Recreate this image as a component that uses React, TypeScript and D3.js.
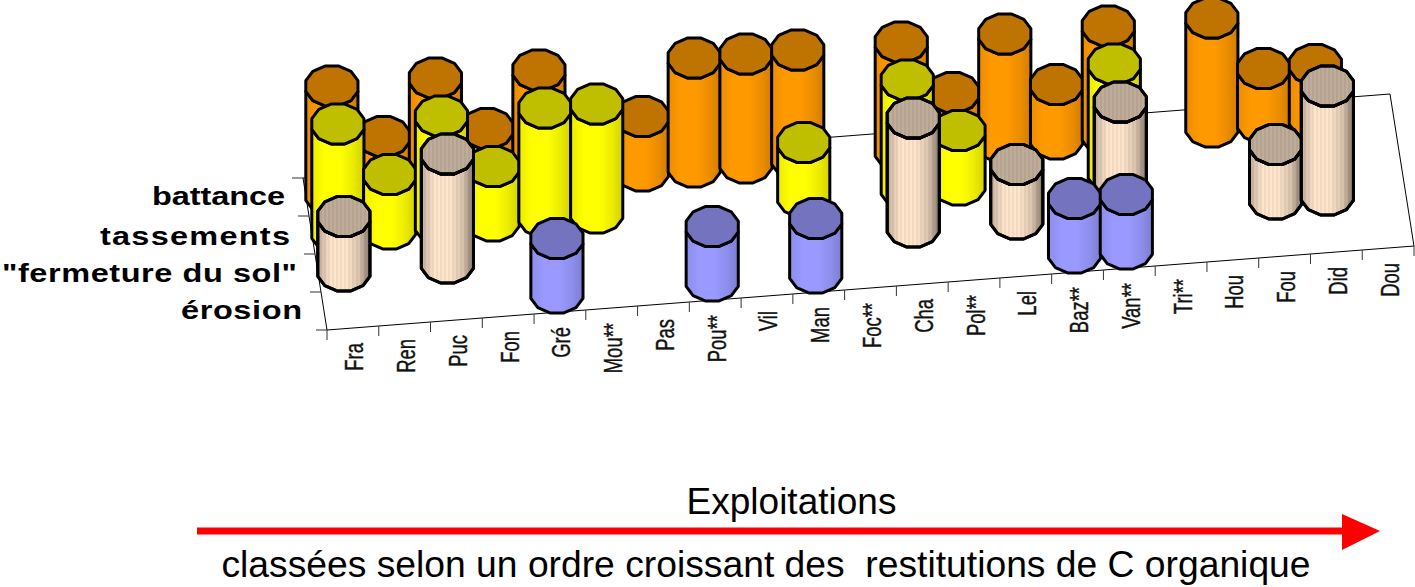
import React from "react";
import * as d3 from "d3";

const categories = ["Fra","Ren","Puc","Fon","Gré","Mou**","Pas","Pou**","Vil","Man","Foc**","Cha","Pol**","Lel","Baz**","Van**","Tri**","Hou","Fou","Did","Dou"];
const depthLabels = ["érosion", "\"fermeture du sol\"", "tassements", "battance"];
const erosion =   [0,0,0,0,1,0,0,1,0,1,0,0,0,0,1,1,0,0,0,0,0];
const fermeture = [1,0,2,0,0,0,0,0,0,0,0,2,0,1,0,2,0,0,1,2,0];
const tassements =[2,1,2,1,2,2,0,0,0,1,0,2,1,0,0,2,0,0,0,0,0];
const battance =  [2,1,2,1,2,0,1,2,2,2,0,2,1,2,1,2,0,2,1,1,0];

const seriesList = [
  { v: 3, values: battance, body: "#ff9900", top: "#bf7300", id: "g3" },
  { v: 2, values: tassements, body: "#ffff00", top: "#bfbf00", id: "g2" },
  { v: 1, values: fermeture, body: "#ffe5cc", top: "#bfac99", id: "g1" },
  { v: 0, values: erosion, body: "#9999ff", top: "#7373bf", id: "g0" },
];

const W = 1415, H = 587;
const xU = d3.scaleLinear().domain([0, 21]).range([327, 1414]);
const yU = d3.scaleLinear().domain([0, 21]).range([330, 246]);
const xV = d3.scaleLinear().domain([0, 4]).range([0, -24]);
const yV = d3.scaleLinear().domain([0, 4]).range([0, -152]);
const hScale = d3.scaleLinear().domain([0, 2]).range([0, 109]);
const project = (u: number, v: number): [number, number] => [xU(u) + xV(v), yU(u) + yV(v)];

const RX = 27, RY = 20.6, SIDES = 12, TURN = Math.PI / 12;
const angles = d3.range(SIDES).map((i) => TURN + (i * 2 * Math.PI) / SIDES);
const ring = (cx: number, cy: number) =>
  angles.map((a) => [cx + RX * Math.cos(a), cy + RY * Math.sin(a)] as [number, number]);
const closed = d3.line().curve(d3.curveLinearClosed);
const open = d3.line();

function Cylinder({ cx, cy, h, body, top, stripes }: any) {
  const bottomRing = ring(cx, cy);
  const topRing = ring(cx, cy - h);
  const half = d3.range(0, SIDES / 2);
  const lowerBase = half.map((i) => bottomRing[i]);
  const lowerTop = half.map((i) => topRing[i]).reverse();
  const bodyPath = closed([...lowerBase, ...lowerTop]) as string;
  const topPath = closed(topRing) as string;
  return (
    <g stroke="#000" strokeWidth={3} strokeLinejoin="round">
      <path d={bodyPath} fill={body} />
      {stripes && <path d={bodyPath} fill="url(#stripes)" stroke="none" />}
      <path d={topPath} fill={top} />
      {stripes && <path d={topPath} fill="url(#stripes)" stroke="none" />}
      {stripes && <path d={topPath} fill="none" />}
      {stripes && <path d={bodyPath} fill="none" />}
    </g>
  );
}

const shade = (c: string, k: number) => {
  const r = d3.rgb(c);
  return d3.rgb(r.r * k, r.g * k, r.b * k).formatHex();
};

const Sans = "'Liberation Sans', Arial, sans-serif";

export default function App() {
  const gridFront = d3.range(0, 22);
  const gridSide = d3.range(0, 5);
  const corners = [project(0, 0), project(21, 0), project(21, 4), project(0, 4)];
  const depthStart = [181, 2, 100, 152];
  const depthWidth = [121, 295, 190, 133];
  const depthBase = [319, 282, 245, 205];
  const XS = 1.3;
  return (
    <svg width={W} height={H} style={{ position: "absolute", left: 0, top: 0, display: "block", background: "#fff" }}>
      <defs>
        {seriesList.map((s) => (
          <linearGradient key={s.id} id={s.id} x1="0" x2="1" y1="0" y2="0">
            <stop offset="0" stopColor={shade(s.body, s.v === 1 ? 0.76 : 0.92)} />
            <stop offset="0.25" stopColor={s.body} />
            <stop offset="0.55" stopColor={s.body} />
            <stop offset="0.8" stopColor={shade(s.body, s.v === 1 ? 0.85 : 0.92)} />
            <stop offset="1" stopColor={shade(s.body, s.v === 1 ? 0.52 : 0.82)} />
          </linearGradient>
        ))}
        <pattern id="stripes" width={4} height={10} patternUnits="userSpaceOnUse">
          <rect width={2} height={10} fill="#000" opacity={0.05} />
        </pattern>
      </defs>

      <path d={closed(corners) as string} fill="none" stroke="#000" strokeWidth={1} />
      {gridFront.map((u) => {
        const [x, y] = project(u, 0);
        return <path key={u} d={open([[x, y], [x, y + 10]]) as string} stroke="#333" strokeWidth={1} />;
      })}
      {gridSide.map((v) => {
        const [x, y] = project(0, v);
        return <path key={v} d={open([[x - 11, y], [x, y]]) as string} stroke="#333" strokeWidth={1} />;
      })}

      {seriesList.map((s) =>
        s.values.map((val, u) => {
          if (!val) return null;
          const [cx, cy] = project(u + 0.5, s.v + 0.5);
          return <Cylinder key={s.id + u} cx={cx} cy={cy} h={hScale(val)} body={`url(#${s.id})`} top={s.top} stripes={s.v === 1} />;
        })
      )}

      {categories.map((c, i) => {
        const [x, y] = project(i + 0.5, 0);
        return (
          <text key={c} transform={`translate(${x + 10.5},${y + 15}) rotate(-90) scale(0.71,1)`} textAnchor="end"
            fontFamily={Sans} fontSize={26} fill="#111" stroke="#111" strokeWidth={0.4}>{c}</text>
        );
      })}

      {depthLabels.map((d, i) => (
        <text key={d} transform={`translate(${depthStart[i]},${depthBase[i]}) scale(${XS},1)`}
          fontFamily={Sans} fontWeight="bold" fontSize={25} textLength={depthWidth[i] / XS} lengthAdjust="spacing" fill="#000">{d}</text>
      ))}

      <text x={791.5} y={514} textAnchor="middle" fontFamily={Sans} fontSize={37} fill="#000">Exploitations</text>
      <rect x={197} y={527.5} width={1150} height={7} fill="#ff0000" />
      <path d={closed([[1342, 514], [1380, 531], [1342, 550]]) as string} fill="#ff0000" />
      <text x={766} y={577} textAnchor="middle" fontFamily={Sans} fontSize={37.25} fill="#000" xmlSpace="preserve" style={{ whiteSpace: "pre" }}>classées selon un ordre croissant des  restitutions de C organique</text>
    </svg>
  );
}
